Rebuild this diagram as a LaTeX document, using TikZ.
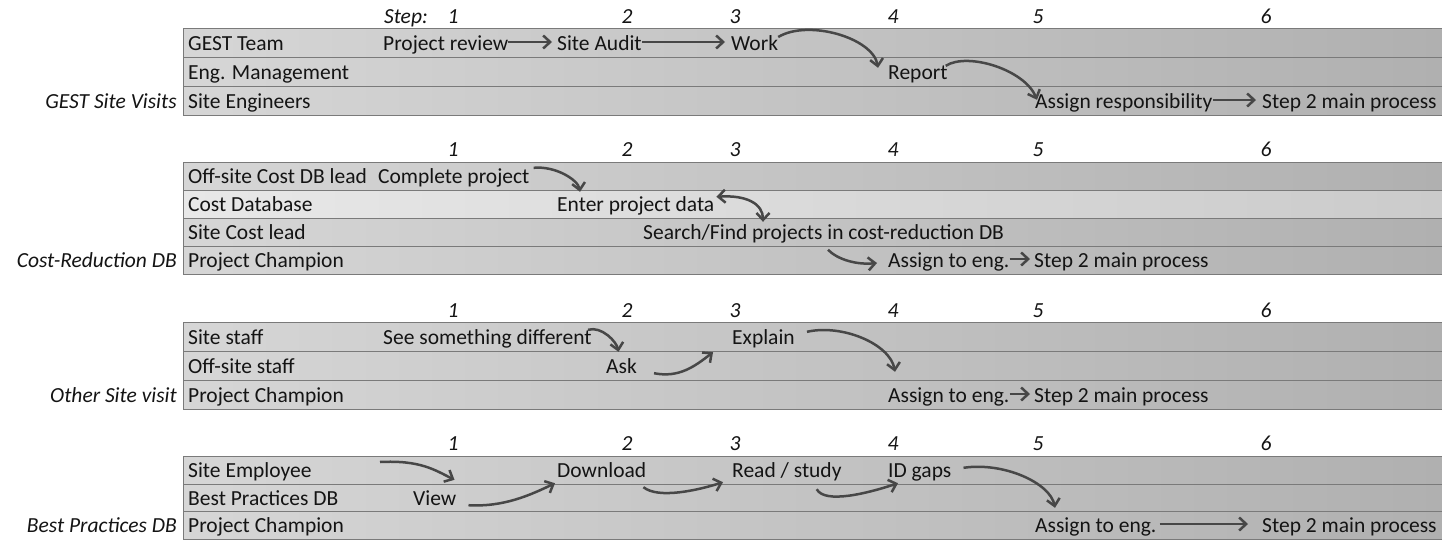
\documentclass[tikz,border=0pt]{standalone}
\usepackage{fontspec}
\setmainfont{Carlito}
\usetikzlibrary{arrows.meta}
\definecolor{rowL}{HTML}{D6D6D6}
\definecolor{rowR}{HTML}{B0B0B0}
\definecolor{rowLl}{HTML}{E8E8E8}
\definecolor{rowRl}{HTML}{CBCBCB}
\definecolor{gridc}{HTML}{7A7A7A}
\definecolor{arrc}{HTML}{474747}
\definecolor{txtc}{HTML}{141414}
\newcommand{\rf}{\fontsize{21.5}{26}\selectfont}
\begin{document}
\begin{tikzpicture}[x=1pt,y=-1pt,
  txt/.style={anchor=base west, inner sep=0pt, text height=16pt, text depth=0pt, font=\rf, text=txtc},
  grp/.style={anchor=base east, inner sep=0pt, font=\rf\itshape, text=txtc},
  num/.style={anchor=base, inner sep=0pt, font=\rf\itshape, text=txtc},
  lane/.style={draw=gridc, line width=0.7pt, left color=rowL, right color=rowR},
  lanel/.style={draw=gridc, line width=0.7pt, left color=rowLl, right color=rowRl},
  flow/.style={draw=arrc, line width=2.5pt, -{Straight Barb[length=7pt,width=13pt]}},
  flow2/.style={draw=arrc, line width=2.5pt, {Straight Barb[length=7pt,width=13pt]}-{Straight Barb[length=7pt,width=13pt]}}
]
\useasboundingbox (0,0) rectangle (1442,541);
\fill[white] (0,0) rectangle (1442,541);

% ---------- lanes ----------
\path[lane] (183,28) rectangle (1442,57);
\path[lane] (183,57) rectangle (1442,86);
\path[lane] (183,86) rectangle (1442,115);

\path[lane] (183,162) rectangle (1442,190);
\path[lanel] (183,190) rectangle (1442,218);
\path[lane] (183,218) rectangle (1442,246);
\path[lane] (183,246) rectangle (1442,274);

\path[lane] (183,322) rectangle (1442,351);
\path[lane] (183,351) rectangle (1442,380);
\path[lane] (183,380) rectangle (1442,409);

\path[lane] (183,456) rectangle (1442,484);
\path[lane] (183,484) rectangle (1442,511);
\path[lane] (183,511) rectangle (1442,539);

% ---------- step numbers ----------
\node[grp] (steplab) at (428,23) {Step:};
\foreach \x [count=\i] in {453,627,735,893,1038,1266} {
  \node[num] (na\i) at (\x,23) {\i};
  \node[num] (nb\i) at (\x,156) {\i};
  \node[num] (nc\i) at (\x,317) {\i};
  \node[num] (nd\i) at (\x,450) {\i};
}

% ---------- group 1 ----------
\node[txt] (gt) at (188,50) {GEST Team};
\node[txt] (em) at (188,79) {Eng. Management};
\node[txt] (se) at (188,108) {Site Engineers};
\node[grp] (g1) at (177,108) {GEST Site Visits};
\node[txt] (pr) at (383,50) {Project review};
\node[txt] (sa) at (557,50) {Site Audit};
\node[txt] (wk) at (731,50) {Work};
\node[txt] (rp) at (888,79) {Report};
\node[txt] (ar) at (1035,108) {Assign responsibility};
\node[txt] (m1) at (1262,108) {Step 2 main process};

\draw[flow] (pr.east) -- ([xshift=-5pt]sa.west);
\draw[flow] (sa.east) -- ([xshift=-6pt]wk.west);
\draw[flow] ([yshift=5pt]wk.east) .. controls +(30,-18) and +(-5,-30) .. ([xshift=-10pt,yshift=-5pt]rp.north west);
\draw[flow] ([xshift=-2pt,yshift=-3pt]rp.north east) .. controls +(22,-14) and +(-12,-30) .. ([xshift=2pt,yshift=-8pt]ar.north west);
\draw[flow] (ar.east) -- ([xshift=-6pt]m1.west);

% ---------- group 2 ----------
\node[txt] (ocl) at (188,183) {Off-site Cost DB lead};
\node[txt] (cdb) at (188,211) {Cost Database};
\node[txt] (scl) at (188,239) {Site Cost lead};
\node[txt] (pc2) at (188,267) {Project Champion};
\node[grp] (g2) at (177,267) {Cost-Reduction DB};
\node[txt] (cp) at (378,183) {Complete project};
\node[txt] (ed) at (557,211) {Enter project data};
\node[txt] (sf) at (643,239) {Search/Find projects in cost-reduction DB};
\node[txt] (ae2) at (888,267) {Assign to eng.};
\node[txt] (m2) at (1034,267) {Step 2 main process};

\draw[flow] ([xshift=4pt,yshift=-1pt]cp.north east) .. controls +(22,-2) and +(-2,-12) .. ([xshift=23pt,yshift=3pt]ed.north west);
\draw[flow2] ([xshift=2pt,yshift=-2pt]ed.north east) .. controls +(30,-2) and +(0,-18) .. ([xshift=120pt,yshift=1pt]sf.north west);
\draw[flow] ([xshift=-60pt,yshift=1pt]ae2.north west) .. controls +(10,10) and +(-20,2) .. ([xshift=-11pt,yshift=-4pt]ae2.west);
\draw[flow] (ae2.east) -- ([xshift=-4pt]m2.west);

% ---------- group 3 ----------
\node[txt] (ss) at (188,344) {Site staff};
\node[txt] (os) at (188,373) {Off-site staff};
\node[txt] (pc3) at (188,402) {Project Champion};
\node[grp] (g3) at (177,402) {Other Site visit};
\node[txt] (sd) at (383,344) {See something different};
\node[txt] (ask) at (606,373) {Ask};
\node[txt] (ex) at (732,344) {Explain};
\node[txt] (ae3) at (888,402) {Assign to eng.};
\node[txt] (m3) at (1034,402) {Step 2 main process};

\draw[flow] ([xshift=-4pt,yshift=-2pt]sd.north east) .. controls +(14,-4) and +(-2,-10) .. ([xshift=-3pt,yshift=5pt]ask.north);
\draw[flow] ([xshift=17pt]ask.south east) .. controls +(25,5) and +(-18,14) .. ([xshift=-19pt,yshift=-8pt]ex.south west);
\draw[flow] ([xshift=12pt,yshift=-4pt]ex.north east) .. controls +(35,-8) and +(-5,-28) .. ([xshift=7pt,yshift=14pt]ae3.north west);
\draw[flow] (ae3.east) -- ([xshift=-4pt]m3.west);

% ---------- group 4 ----------
\node[txt] (sem) at (188,477) {Site Employee};
\node[txt] (bpd) at (188,505) {Best Practices DB};
\node[txt] (pc4) at (188,532) {Project Champion};
\node[grp] (g4) at (177,532) {Best Practices DB};
\node[txt] (vw) at (413,505) {View};
\node[txt] (dl) at (557,477) {Download};
\node[txt] (rs) at (732,477) {Read / study};
\node[txt] (idg) at (888,477) {ID gaps};
\node[txt] (ae4) at (1035,532) {Assign to eng.};
\node[txt] (m4) at (1262,532) {Step 2 main process};
\coordinate (a1s) at (380,462);

\draw[flow] (a1s) .. controls +(40,-2) and +(-20,-10) .. ([xshift=-2pt,yshift=9pt]vw.north east);
\draw[flow] ([xshift=12pt]vw.south east) .. controls +(35,2) and +(-25,12) .. ([xshift=-2pt,yshift=-6pt]dl.south west);
\draw[flow] ([xshift=-3pt,yshift=-10pt]dl.south east) .. controls +(15,12) and +(-25,8) .. ([xshift=-9pt,yshift=-5pt]rs.south west);
\draw[flow] ([xshift=-25pt,yshift=-12pt]rs.south east) .. controls +(8,15) and +(-30,10) .. ([xshift=10pt,yshift=-6pt]idg.south west);
\draw[flow] ([xshift=12pt,yshift=-7pt]idg.north east) .. controls +(40,-6) and +(-5,-25) .. ([xshift=20pt,yshift=8pt]ae4.north west);
\draw[flow] ([xshift=3pt]ae4.east) -- ([xshift=-14pt]m4.west);
\end{tikzpicture}
\end{document}
